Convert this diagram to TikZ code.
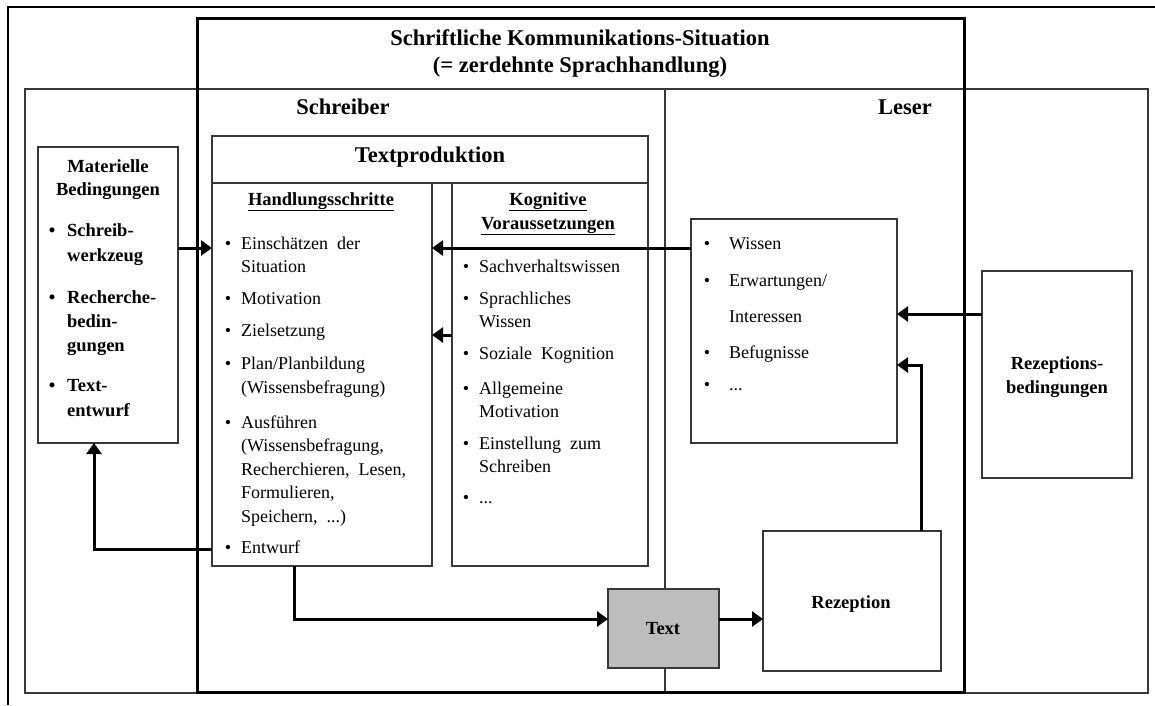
\documentclass[tikz,border=0pt]{standalone}
\usepackage{fontspec}
\setmainfont{Liberation Serif}
\usetikzlibrary{arrows.meta}
\definecolor{frame}{HTML}{383838}
\definecolor{textfill}{HTML}{BDBDBD}
\tikzset{
  thinbox/.style={draw=frame, line width=1.3pt, inner sep=0pt, outer sep=0pt, anchor=north west},
  thickbox/.style={draw=black, line width=3pt, inner sep=0pt, outer sep=0pt, anchor=north west},
  arr/.style={line width=3pt, -{Triangle[length=11pt,width=15pt]}},
  ttl/.style={font=\fontsize{22.5}{27}\selectfont\bfseries, inner sep=0pt, anchor=base},
  hd/.style={font=\fontsize{18.5}{24}\selectfont\bfseries, inner sep=0pt, anchor=base},
  hdl/.style={font=\fontsize{18.5}{24}\selectfont\bfseries, inner sep=0pt, anchor=base west},
  txt/.style={font=\fontsize{18}{24}\selectfont, inner sep=0pt, anchor=base west},
  bul/.style={font=\fontsize{18}{24}\selectfont, inner sep=0pt, anchor=base},
}
\begin{document}
\begin{tikzpicture}[x=1pt,y=-1pt]
\useasboundingbox (0,0) rectangle (1155,705);
\fill[white] (0,0) rectangle (1155,705);

% page frame (top and left edges)
\draw[line width=2.5pt] (8,705) -- (8,7) -- (1155,7);

% writer / reader region and its divider
\node[thinbox, minimum width=1123pt, minimum height=604pt] (region) at (25,89) {};
\coordinate (divtop) at (665,89);
\coordinate (divbot) at (665,693);
\draw[draw=frame, line width=1.3pt] (divtop) -- (divbot);

% communication situation frame
\node[thickbox, minimum width=767pt, minimum height=674pt] (situation) at (197,18) {};

% title and region labels
\node[ttl] (title1) at (580,45) {Schriftliche Kommunikations-Situation};
\node[ttl] (title2) at (580,72) {(= zerdehnte Sprachhandlung)};
\node[ttl] (schreiber) at (343,114) {Schreiber};
\node[ttl] (leser) at (905,114) {Leser};

% text production block
\node[thinbox, fill=white, minimum width=436pt, minimum height=47pt] (tp) at (212,136) {};
\node[ttl] (tplabel) at (430,162) {Textproduktion};
\node[thinbox, fill=white, minimum width=220pt, minimum height=383pt] (hs) at (212,183) {};
\node[thinbox, fill=white, minimum width=196pt, minimum height=383pt] (kog) at (452,183) {};

\node[hd] (hshead) at (321,205) {\underline{Handlungsschritte}};
\node[hd] (koghead1) at (548,205) {\underline{Kognitive}};
\node[hd] (koghead2) at (548,229) {\underline{Voraussetzungen}};

% action steps
\node[bul] (hb1) at (228,249) {•};
\node[txt] (h1a) at (241,249) {Einschätzen\ \ der};
\node[txt] (h1b) at (241,272.5) {Situation};
\node[bul] (hb2) at (228,304) {•};
\node[txt] (h2) at (241,304) {Motivation};
\node[bul] (hb3) at (228,336) {•};
\node[txt] (h3) at (241,336) {Zielsetzung};
\node[bul] (hb4) at (228,369) {•};
\node[txt] (h4a) at (241,369) {Plan/Planbildung};
\node[txt] (h4b) at (241,393) {(Wissensbefragung)};
\node[bul] (hb5) at (228,428) {•};
\node[txt] (h5a) at (241,428) {Ausführen};
\node[txt] (h5b) at (241,451.5) {(Wissensbefragung,};
\node[txt] (h5c) at (241,475) {Recherchieren,\ \ Lesen,};
\node[txt] (h5d) at (241,498.5) {Formulieren,};
\node[txt] (h5e) at (241,522) {Speichern,\ \ ...)};
\node[bul] (hb6) at (228,553) {•};
\node[txt] (h6) at (241,553) {Entwurf};

% cognitive prerequisites
\node[bul] (kb1) at (466,272) {•};
\node[txt] (k1) at (479,272) {Sachverhaltswissen};
\node[bul] (kb2) at (466,304) {•};
\node[txt] (k2a) at (479,304) {Sprachliches};
\node[txt] (k2b) at (479,327) {Wissen};
\node[bul] (kb3) at (466,359) {•};
\node[txt] (k3) at (479,359) {Soziale\ \ Kognition};
\node[bul] (kb4) at (466,394) {•};
\node[txt] (k4a) at (479,394) {Allgemeine};
\node[txt] (k4b) at (479,417) {Motivation};
\node[bul] (kb5) at (466,449) {•};
\node[txt] (k5a) at (479,449) {Einstellung\ \ zum};
\node[txt] (k5b) at (479,472) {Schreiben};
\node[bul] (kb6) at (466,503) {•};
\node[txt] (k6) at (479,503) {...};

% material conditions
\node[thinbox, fill=white, minimum width=140pt, minimum height=296pt] (mat) at (38,147) {};
\node[hd] (mathead1) at (108,172) {Materielle};
\node[hd] (mathead2) at (108,195) {Bedingungen};
\node[hd] (mb1) at (52,236) {•};
\node[hdl] (m1a) at (67,236) {Schreib-};
\node[hdl] (m1b) at (67,261) {werkzeug};
\node[hd] (mb2) at (52,303) {•};
\node[hdl] (m2a) at (67,303) {Recherche-};
\node[hdl] (m2b) at (67,327) {bedin-};
\node[hdl] (m2c) at (67,351) {gungen};
\node[hd] (mb3) at (52,391) {•};
\node[hdl] (m3a) at (67,391) {Text-};
\node[hdl] (m3b) at (67,416) {entwurf};

% reader's prerequisites
\node[thinbox, fill=white, minimum width=206pt, minimum height=224pt] (wis) at (691,219) {};
\node[bul] (wb1) at (707,249) {•};
\node[txt] (w1) at (729,249) {Wissen};
\node[bul] (wb2) at (707,286) {•};
\node[txt] (w2a) at (729,286) {Erwartungen/};
\node[txt] (w2b) at (729,322) {Interessen};
\node[bul] (wb3) at (707,358) {•};
\node[txt] (w3) at (729,358) {Befugnisse};
\node[bul] (wb4) at (707,390) {•};
\node[txt] (w4) at (729,390) {...};

% reception conditions
\node[thinbox, fill=white, minimum width=150pt, minimum height=207pt] (rzb) at (982,271) {};
\node[hd] (rzb1) at (1057,369) {Rezeptions-};
\node[hd] (rzb2) at (1057,393) {bedingungen};

% text and reception
\node[thinbox, fill=textfill, minimum width=111pt, minimum height=79pt] (txt) at (608,589) {};
\node[hd] (txtlabel) at (663,634) {Text};
\node[thinbox, fill=white, minimum width=178pt, minimum height=140pt] (rez) at (763,531) {};
\node[hd] (rezlabel) at (851,608) {Rezeption};

% connector rows and columns
\coordinate (r248) at (0,248);
\coordinate (r335) at (0,335);
\coordinate (r314) at (0,314);
\coordinate (r365) at (0,365);
\coordinate (r549) at (0,549);
\coordinate (r619) at (0,619);
\coordinate (c921) at (921,0);
\coordinate (c94) at (94,0);
\coordinate (c294) at (294,0);

% connectors
\draw[arr] (mat.east |- r248) -- (hs.west |- r248);
\draw[arr] (wis.west |- r248) -- (hs.east |- r248);
\draw[arr] (kog.west |- r335) -- (hs.east |- r335);
\draw[arr] (rzb.west |- r314) -- (wis.east |- r314);
\draw[arr] (rez.north -| c921) |- (wis.east |- r365);
\draw[arr] (hs.west |- r549) -| (mat.south -| c94);
\draw[arr] (hs.south -| c294) |- (txt.west |- r619);
\draw[arr] (txt.east |- r619) -- (rez.west |- r619);
\end{tikzpicture}
\end{document}
